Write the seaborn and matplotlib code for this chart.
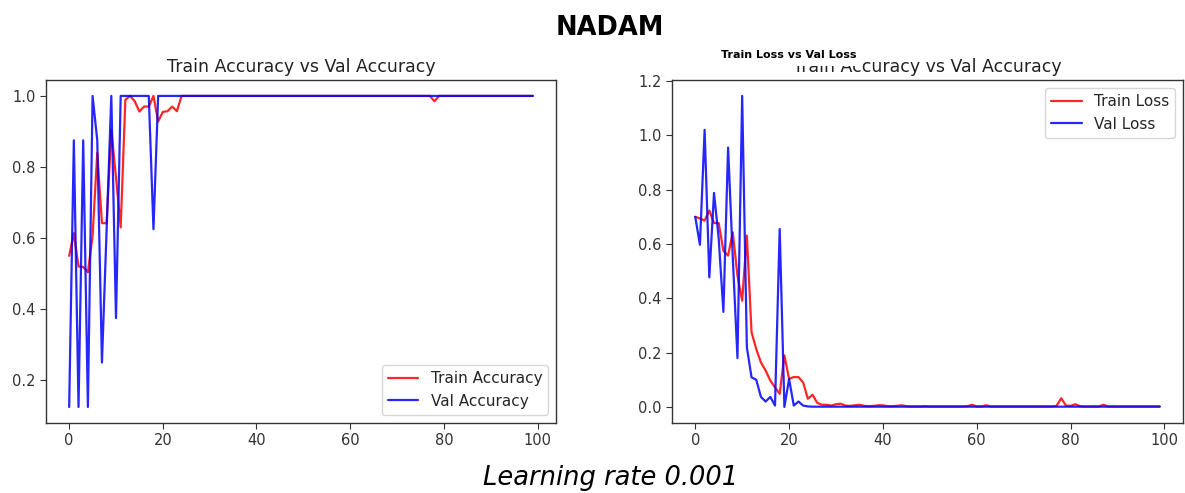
import matplotlib
matplotlib.use("Agg")
import matplotlib.pyplot as plt
import seaborn as sns
import pandas as pd
import numpy as np

epochs = list(range(100))

train_acc = [
    0.55, 0.614, 0.52, 0.519, 0.504, 0.606, 0.84, 0.642, 0.642, 0.905,
    0.77, 0.63, 0.989, 1.0, 0.985, 0.956, 0.97, 0.97, 1.0, 0.928,
    0.955, 0.957, 0.97, 0.957, 1.0, 1.0, 1.0, 1.0, 1.0, 1.0,
    1.0, 1.0, 1.0, 1.0, 1.0, 1.0, 1.0, 1.0, 1.0, 1.0,
    1.0, 1.0, 1.0, 1.0, 1.0, 1.0, 1.0, 1.0, 1.0, 1.0,
    1.0, 1.0, 1.0, 1.0, 1.0, 1.0, 1.0, 1.0, 1.0, 1.0,
    1.0, 1.0, 1.0, 1.0, 1.0, 1.0, 1.0, 1.0, 1.0, 1.0,
    1.0, 1.0, 1.0, 1.0, 1.0, 1.0, 1.0, 1.0, 0.985, 1.0,
    1.0, 1.0, 1.0, 1.0, 1.0, 1.0, 1.0, 1.0, 1.0, 1.0,
    1.0, 1.0, 1.0, 1.0, 1.0, 1.0, 1.0, 1.0, 1.0, 1.0,
]

val_acc = [
    0.125, 0.875, 0.125, 0.875, 0.125, 1.0, 0.875, 0.25, 0.625, 1.0,
    0.375, 1.0, 1.0, 1.0, 1.0, 1.0, 1.0, 1.0, 0.625, 1.0,
    1.0, 1.0, 1.0, 1.0, 1.0, 1.0, 1.0, 1.0, 1.0, 1.0,
    1.0, 1.0, 1.0, 1.0, 1.0, 1.0, 1.0, 1.0, 1.0, 1.0,
    1.0, 1.0, 1.0, 1.0, 1.0, 1.0, 1.0, 1.0, 1.0, 1.0,
    1.0, 1.0, 1.0, 1.0, 1.0, 1.0, 1.0, 1.0, 1.0, 1.0,
    1.0, 1.0, 1.0, 1.0, 1.0, 1.0, 1.0, 1.0, 1.0, 1.0,
    1.0, 1.0, 1.0, 1.0, 1.0, 1.0, 1.0, 1.0, 1.0, 1.0,
    1.0, 1.0, 1.0, 1.0, 1.0, 1.0, 1.0, 1.0, 1.0, 1.0,
    1.0, 1.0, 1.0, 1.0, 1.0, 1.0, 1.0, 1.0, 1.0, 1.0,
]

train_loss = [
    0.70, 0.694, 0.686, 0.723, 0.677, 0.677, 0.575, 0.557, 0.643, 0.483,
    0.391, 0.631, 0.275, 0.213, 0.164, 0.134, 0.097, 0.072, 0.048, 0.19,
    0.103, 0.11, 0.11, 0.09, 0.03, 0.045, 0.015, 0.008, 0.008, 0.005,
    0.01, 0.012, 0.005, 0.004, 0.006, 0.008, 0.004, 0.003, 0.004, 0.006,
    0.006, 0.003, 0.003, 0.004, 0.006, 0.003, 0.002, 0.002, 0.002, 0.003,
    0.002, 0.002, 0.002, 0.002, 0.002, 0.002, 0.002, 0.002, 0.003, 0.008,
    0.002, 0.002, 0.006, 0.002, 0.002, 0.002, 0.002, 0.002, 0.002, 0.002,
    0.002, 0.002, 0.002, 0.002, 0.002, 0.002, 0.002, 0.004, 0.032, 0.005,
    0.004, 0.01, 0.003, 0.002, 0.002, 0.002, 0.002, 0.008, 0.002, 0.002,
    0.002, 0.002, 0.002, 0.002, 0.002, 0.002, 0.002, 0.002, 0.002, 0.002,
]

val_loss = [
    0.70, 0.597, 1.02, 0.477, 0.788, 0.62, 0.35, 0.955, 0.55, 0.18,
    1.145, 0.22, 0.109, 0.10, 0.037, 0.02, 0.037, 0.005, 0.655, 0.0,
    0.103, 0.005, 0.02, 0.005, 0.002, 0.001, 0.001, 0.001, 0.001, 0.001,
    0.001, 0.001, 0.001, 0.001, 0.001, 0.001, 0.001, 0.001, 0.001, 0.001,
    0.001, 0.001, 0.001, 0.001, 0.001, 0.001, 0.001, 0.001, 0.001, 0.001,
    0.001, 0.001, 0.001, 0.001, 0.001, 0.001, 0.001, 0.001, 0.001, 0.001,
    0.001, 0.001, 0.001, 0.001, 0.001, 0.001, 0.001, 0.001, 0.001, 0.001,
    0.001, 0.001, 0.001, 0.001, 0.001, 0.001, 0.001, 0.001, 0.001, 0.001,
    0.001, 0.001, 0.001, 0.001, 0.001, 0.001, 0.001, 0.001, 0.001, 0.001,
    0.001, 0.001, 0.001, 0.001, 0.001, 0.001, 0.001, 0.001, 0.001, 0.001,
]

acc_df = pd.DataFrame({
    "epoch": epochs * 2,
    "value": train_acc + val_acc,
    "series": ["Train Accuracy"] * 100 + ["Val Accuracy"] * 100,
})
loss_df = pd.DataFrame({
    "epoch": epochs * 2,
    "value": train_loss + val_loss,
    "series": ["Train Loss"] * 100 + ["Val Loss"] * 100,
})

sns.set_style("ticks")
plt.rcParams["font.family"] = ["DejaVu Sans"]
plt.rcParams["axes.edgecolor"] = "#333333"
plt.rcParams["xtick.color"] = "#333333"
plt.rcParams["ytick.color"] = "#333333"

fig = plt.figure(figsize=(11.85, 4.93), dpi=100)
ax1 = fig.add_axes([0.0388, 0.143, 0.4304, 0.694])
ax2 = fig.add_axes([0.5671, 0.143, 0.4312, 0.694])

sns.lineplot(data=acc_df, x="epoch", y="value", hue="series",
             palette={"Train Accuracy": "red", "Val Accuracy": "blue"},
             linewidth=1.6, alpha=0.85, ax=ax1)
sns.lineplot(data=loss_df, x="epoch", y="value", hue="series",
             palette={"Train Loss": "red", "Val Loss": "blue"},
             linewidth=1.6, alpha=0.85, ax=ax2)

for ax in (ax1, ax2):
    ax.set_xlabel("")
    ax.set_ylabel("")
    ax.set_xticks([0, 20, 40, 60, 80, 100])
    ax.tick_params(labelsize=10.5, colors="#333333", length=4)
    ax.set_title("Train Accuracy vs Val Accuracy", fontsize=12.5, color="#222222", pad=6)
    for s in ax.spines.values():
        s.set_visible(True)
        s.set_linewidth(1.0)

ax1.set_yticks([0.2, 0.4, 0.6, 0.8, 1.0])
ax1.set_yticklabels(["0.2", "0.4", "0.6", "0.8", "1.0"])
ax2.set_yticks([0.0, 0.2, 0.4, 0.6, 0.8, 1.0, 1.2])
ax2.set_yticklabels(["0.0", "0.2", "0.4", "0.6", "0.8", "1.0", "1.2"])

ax1.legend(loc="lower right", fontsize=11, frameon=True, title=None)
ax2.legend(loc="upper right", fontsize=11, frameon=True, title=None)

fig.text(0.515, 0.943, "NADAM", ha="center", va="center",
         fontsize=18.5, fontweight="bold", color="black")
fig.text(0.6655, 0.888, "Train Loss vs Val Loss", ha="center", va="center",
         fontsize=8, fontweight="bold", color="black",
         bbox=dict(facecolor="white", edgecolor="none", pad=4.5))
fig.text(0.515, 0.030, "Learning rate 0.001", ha="center", va="center",
         fontsize=18.5, fontstyle="italic", color="black")

fig.savefig("out.png", dpi=100, facecolor="white")
